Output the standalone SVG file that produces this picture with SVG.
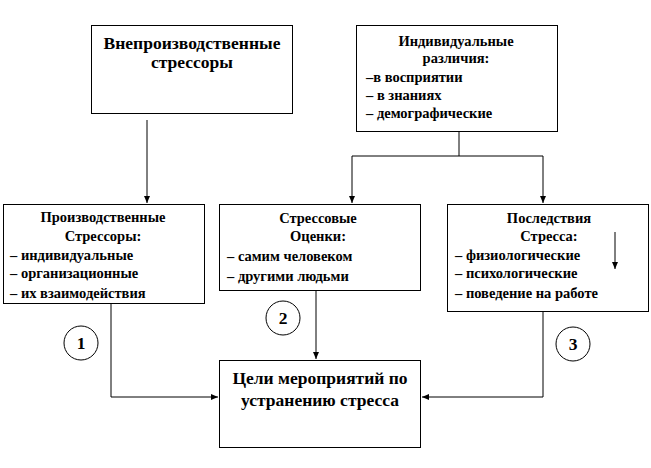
<svg xmlns="http://www.w3.org/2000/svg" width="651" height="468" viewBox="0 0 651 468">
<defs>
<marker id="ah" markerWidth="8" markerHeight="8" refX="7" refY="4" orient="auto" markerUnits="userSpaceOnUse">
<path d="M0,1 L7,4 L0,7 Z" fill="#000"/>
</marker>
<style>
.box{fill:#fff;stroke:#000;stroke-width:1}
.t{font-family:'Liberation Serif','Times New Roman',serif;font-weight:bold;fill:#000}
.s{font-size:14.5px}
.l{font-size:17.5px}
.c{text-anchor:middle}
.ln{fill:none;stroke:#000;stroke-width:1}
.cir{fill:#fff;stroke:#000;stroke-width:1}
</style>
</defs>
<rect width="651" height="468" fill="#fff"/>
<g id="connectors">
<path class="ln" d="M147,120 V203" marker-end="url(#ah)"/>
<path class="ln" d="M459,132 V156"/>
<path class="ln" d="M352,156 H543"/>
<path class="ln" d="M352,156 V203" marker-end="url(#ah)"/>
<path class="ln" d="M543,156 V203" marker-end="url(#ah)"/>
<path class="ln" d="M111,304 V397 H218" marker-end="url(#ah)"/>
<path class="ln" d="M316,291 V359" marker-end="url(#ah)"/>
<path class="ln" d="M543,312 V397 H422" marker-end="url(#ah)"/>
</g>
<g id="n-vneproizv">
<rect class="box" x="91.5" y="25.5" width="201" height="88"/>
<text class="t l c" x="192" y="49">Внепроизводственные</text>
<text class="t l c" x="192" y="68">стрессоры</text>
</g>
<g id="n-individ">
<rect class="box" x="356.5" y="25.5" width="201" height="106"/>
<text class="t s c" x="456" y="46">Индивидуальные</text>
<text class="t s c" x="456" y="63">различия:</text>
<text class="t s" x="366" y="82">–в восприятии</text>
<text class="t s" x="366" y="100">– в знаниях</text>
<text class="t s" x="366" y="118">– демографические</text>
</g>
<g id="n-proizv">
<rect class="box" x="3.5" y="204.5" width="201" height="99"/>
<text class="t s c" x="103" y="222">Производственные</text>
<text class="t s c" x="103" y="241">Стрессоры:</text>
<text class="t s" x="10" y="260">– индивидуальные</text>
<text class="t s" x="10" y="278">– организационные</text>
<text class="t s" x="10" y="298">– их взаимодействия</text>
</g>
<g id="n-ocenki">
<rect class="box" x="219.5" y="204.5" width="201" height="86"/>
<text class="t s c" x="318" y="223">Стрессовые</text>
<text class="t s c" x="318" y="241">Оценки:</text>
<text class="t s" x="227" y="261">– самим человеком</text>
<text class="t s" x="227" y="281">– другими людьми</text>
</g>
<g id="n-posledstviya">
<rect class="box" x="447.5" y="204.5" width="201" height="107"/>
<text class="t s c" x="549" y="223">Последствия</text>
<text class="t s c" x="549" y="241">Стресса:</text>
<text class="t s" x="455" y="260">– физиологические</text>
<text class="t s" x="455" y="278">– психологические</text>
<text class="t s" x="455" y="298">– поведение на работе</text>
<path class="ln" d="M615,232 V269" marker-end="url(#ah)"/>
</g>
<g id="n-celi">
<rect class="box" x="219.5" y="360.5" width="201" height="87"/>
<text class="t l c" x="320" y="384">Цели мероприятий по</text>
<text class="t l c" x="320" y="406">устранению стресса</text>
</g>
<g id="n-c1">
<circle class="cir" cx="81" cy="343" r="17"/>
<text class="t l c" x="81" y="349">1</text>
</g>
<g id="n-c2">
<circle class="cir" cx="283" cy="318" r="17"/>
<text class="t l c" x="283" y="324">2</text>
</g>
<g id="n-c3">
<circle class="cir" cx="573" cy="344" r="17"/>
<text class="t l c" x="573" y="350">3</text>
</g>
</svg>
